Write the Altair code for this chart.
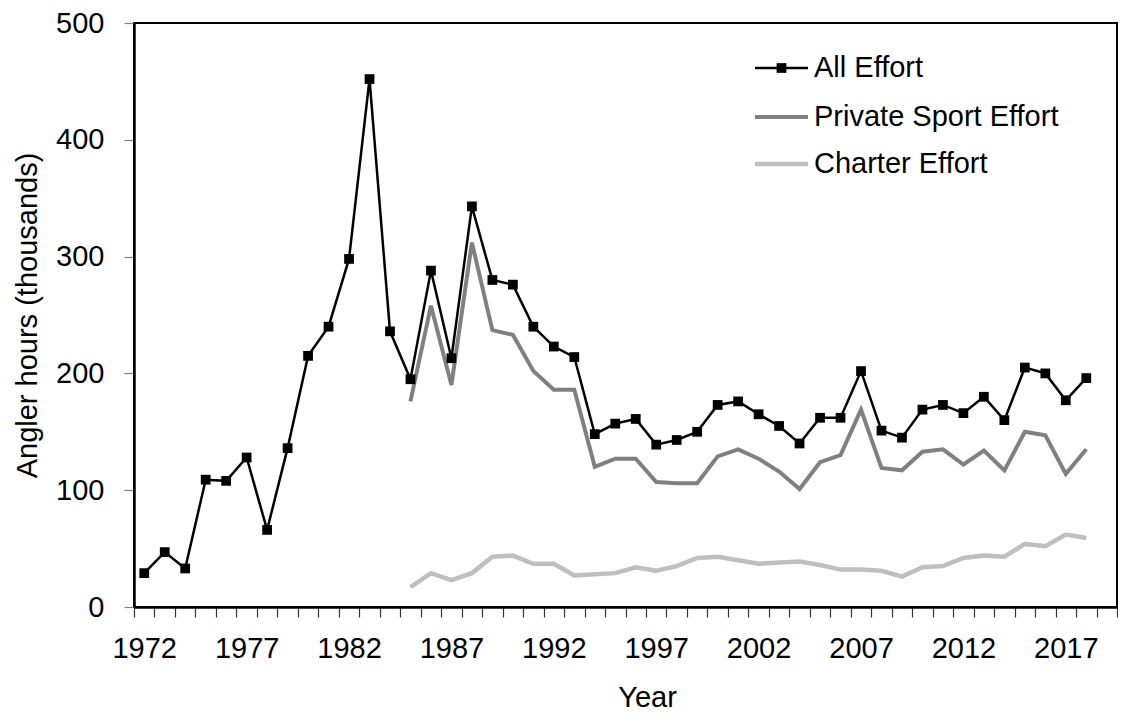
import altair as alt
import pandas as pd

FONT = "Liberation Sans"

# ---- data ----
years_all = list(range(1972, 2019))
all_effort = [29, 47, 33, 109, 108, 128, 66, 136, 215, 240,
              298, 452, 236, 195, 288, 213, 343, 280, 276, 240,
              223, 214, 148, 157, 161, 139, 143, 150, 173, 176,
              165, 155, 140, 162, 162, 202, 151, 145, 169, 173,
              166, 180, 160, 205, 200, 177, 196]

years_sub = list(range(1985, 2019))
private_effort = [176, 258, 190, 312, 237, 233, 202, 186, 186, 120,
                  127, 127, 107, 106, 106, 129, 135, 127, 116, 101,
                  124, 130, 169, 119, 117, 133, 135, 122, 134, 117,
                  150, 147, 114, 135]
charter_effort = [17, 29, 23, 29, 43, 44, 37, 37, 27, 28,
                  29, 34, 31, 35, 42, 43, 40, 37, 38, 39,
                  36, 32, 32, 31, 26, 34, 35, 42, 44, 43,
                  54, 52, 62, 59]

series_names = ["All Effort", "Private Sport Effort", "Charter Effort"]
series_colors = ["#000000", "#808080", "#BFBFBF"]
series_widths = [2.5, 4, 4.5]

y_ticks = [0, 100, 200, 300, 400, 500]

df_all = pd.DataFrame({"year": years_all, "value": all_effort})
df_priv = pd.DataFrame({"year": years_sub, "value": private_effort})
df_char = pd.DataFrame({"year": years_sub, "value": charter_effort})

W, H = 983, 584
band = W / 48.0

x_enc = alt.X(
    "year:Q",
    scale=alt.Scale(domain=[1971.5, 2019.5], nice=False, zero=False),
    axis=alt.Axis(
        values=[y + 0.5 for y in range(1971, 2020)],
        labelExpr="(datum.value + 0.5 - 1972) % 5 == 0 ? toString(datum.value + 0.5) : ''",
        labelOffset=band / 2,
        tickSize=10, tickColor="#333333", tickWidth=1.2,
        labelPadding=17, labelOverlap=False, labelFlush=False, labelBound=False,
        title="Year", titlePadding=20, titleX=513, titleAlign="center",
        domainWidth=2.5, domainColor="black",
    ),
)
y_enc = alt.Y(
    "value:Q",
    scale=alt.Scale(domain=[0, 500], nice=False),
    axis=alt.Axis(
        values=y_ticks, tickSize=10, tickColor="#808080", tickWidth=1.2,
        labelPadding=20, title="Angler hours (thousands)", titlePadding=13,
        domainWidth=2.5, domainColor="black",
    ),
)

charter_line = alt.Chart(df_char).mark_line(
    color=series_colors[2], strokeWidth=series_widths[2]
).encode(x=x_enc, y=y_enc)
private_line = alt.Chart(df_priv).mark_line(
    color=series_colors[1], strokeWidth=series_widths[1]
).encode(x=x_enc, y=y_enc)
all_line = alt.Chart(df_all).mark_line(
    color=series_colors[0], strokeWidth=series_widths[0]
).encode(x=x_enc, y=y_enc)
all_pts = alt.Chart(df_all).mark_point(
    shape="square", filled=True, size=95, color="black", opacity=1
).encode(x=x_enc, y=y_enc)

# ---- legend (drawn manually, top-right inside plot) ----
one = pd.DataFrame({"k": [0]})
legend_layers = []
leg_y = [45, 94, 141]
for name, col, w, ly in zip(series_names, series_colors, series_widths, leg_y):
    legend_layers.append(
        alt.Chart(one).mark_rule(color=col, strokeWidth=w).encode(
            x=alt.value(621), x2=alt.value(674), y=alt.value(ly)
        )
    )
    legend_layers.append(
        alt.Chart(one).mark_text(
            align="left", baseline="middle", font=FONT, fontSize=29, color="black"
        ).encode(x=alt.value(680), y=alt.value(ly), text=alt.value(name))
    )
legend_layers.append(
    alt.Chart(one).mark_point(shape="square", filled=True, size=95, color="black", opacity=1).encode(
        x=alt.value(647.5), y=alt.value(leg_y[0])
    )
)

chart = alt.layer(
    charter_line, private_line, all_line, all_pts, *legend_layers
).properties(
    width=W, height=H,
    autosize=alt.AutoSizeParams(type="none"),
    padding={"left": 126, "top": 15, "right": 1, "bottom": 110},
).configure_view(
    stroke="black", strokeWidth=2
).configure_axis(
    labelFont=FONT, labelFontSize=29, labelColor="black",
    titleFont=FONT, titleFontSize=29, titleColor="black", titleFontWeight="normal",
    grid=False,
)

chart.save("out.html", embed_options={"renderer": "svg", "actions": False})
